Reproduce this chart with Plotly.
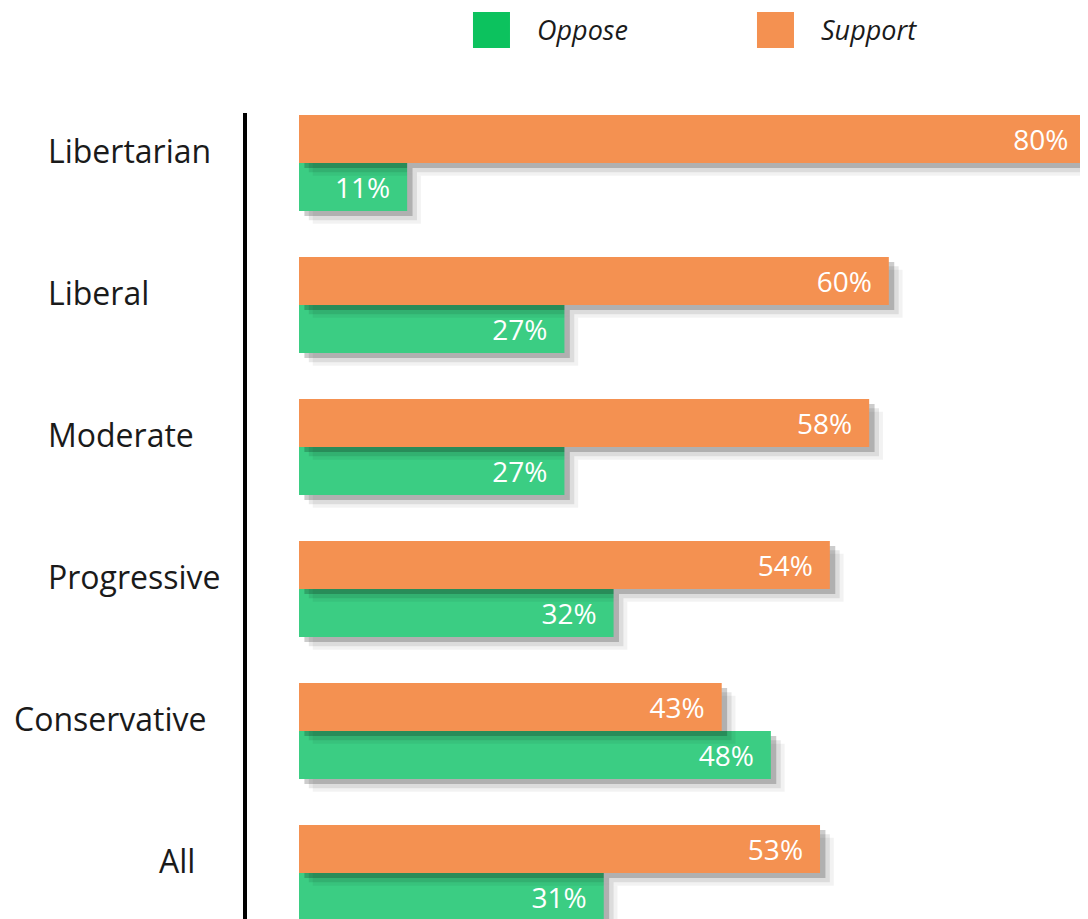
import plotly.graph_objects as go

# --- data -------------------------------------------------------------------
CATEGORIES = ["Libertarian", "Liberal", "Moderate", "Progressive", "Conservative", "All"]
SUPPORT = [80, 60, 58, 54, 43, 53]
OPPOSE = [11, 27, 27, 32, 48, 31]

# --- style ------------------------------------------------------------------
ORANGE = "#F49151"
GREEN = "#3BCD83"
LEGEND_GREEN = "#0CC25E"
TEXT = "#1A1A1A"
FONT = "Open Sans, sans-serif"

BAR_W = 0.338          # bar thickness in category units
SHADOWS = [            # (x shift in %, y shift in category units, colour)
    (1.4, 0.09, "rgba(0,0,0,0.05)"),
    (1.0, 0.065, "rgba(0,0,0,0.09)"),
    (0.55, 0.035, "rgba(0,0,0,0.20)"),
]

# label anchor (paper x, xanchor) per category, the source labels are not aligned
LABEL_POS = [
    (-0.239, "left"), (-0.239, "left"), (-0.239, "left"),
    (-0.239, "left"), (-0.279, "left"), (-0.083, "center"),
]


def add_bar(fig, values, color, offset, name):
    # fake drop shadow: shifted translucent copies drawn underneath
    for dx, dy, col in SHADOWS:
        fig.add_trace(
            go.Bar(
                y=CATEGORIES,
                x=values,
                base=dx,
                orientation="h",
                width=BAR_W,
                offset=offset + dy,
                marker=dict(color=col, line_width=0),
                hoverinfo="skip",
                showlegend=False,
            )
        )
    fig.add_trace(
        go.Bar(
            y=CATEGORIES,
            x=values,
            name=name,
            orientation="h",
            width=BAR_W,
            offset=offset,
            marker=dict(color=color, line_width=0),
            text=[f"{v}%\u2002" for v in values],
            textposition="inside",
            insidetextanchor="end",
            textfont=dict(family=FONT, size=28, color="white"),
            hovertemplate="%{y}<br>" + name + ": %{x}%<extra></extra>",
            showlegend=False,
        )
    )


fig = go.Figure()
add_bar(fig, OPPOSE, GREEN, 0.0, "Oppose")
add_bar(fig, SUPPORT, ORANGE, -BAR_W, "Support")

# category labels, sitting a little above the group centre
annotations = []
for cat, (px, anchor) in zip(CATEGORIES, LABEL_POS):
    annotations.append(
        dict(
            x=px, xref="paper", y=cat, yref="y", yshift=12,
            text=cat, showarrow=False, xanchor=anchor, yanchor="middle",
            font=dict(family=FONT, size=32, color=TEXT),
        )
    )

# legend drawn by hand: plotly's legend swatches cannot be this big
legend_items = [("Oppose", LEGEND_GREEN, 0.2687), ("Support", ORANGE, 0.6064)]
shapes = []
for name, col, x0 in legend_items:
    shapes.append(
        dict(
            type="rect", xref="paper", yref="paper",
            x0=x0, x1=x0 + 0.044, y0=1.0806, y1=1.1253,
            fillcolor=col, line_width=0,
        )
    )
    annotations.append(
        dict(
            x=x0 + 0.0738, xref="paper", y=1.103, yref="paper",
            text=f"<i>{name}</i>", showarrow=False, xanchor="left", yanchor="middle",
            font=dict(family=FONT, size=27, color=TEXT),
        )
    )

# the page body has an 8px margin, so the figure is 8px smaller on each side
fig.update_layout(
    width=1080,
    height=911,
    barmode="overlay",
    paper_bgcolor="white",
    plot_bgcolor="white",
    margin=dict(l=239, r=0, t=105, b=0),
    showlegend=False,
    annotations=annotations,
    shapes=shapes,
    font=dict(family=FONT, color=TEXT),
)
fig.update_xaxes(
    range=[-5.29, 80.26],
    showgrid=False,
    zeroline=False,
    showticklabels=False,
    showline=False,
)
fig.update_yaxes(
    categoryorder="array",
    categoryarray=CATEGORIES,
    range=[5.324, -0.352],
    showgrid=False,
    zeroline=False,
    showticklabels=False,
    ticks="",
    showline=True,
    linecolor="black",
    linewidth=4,
)

fig.write_html("out.html")
